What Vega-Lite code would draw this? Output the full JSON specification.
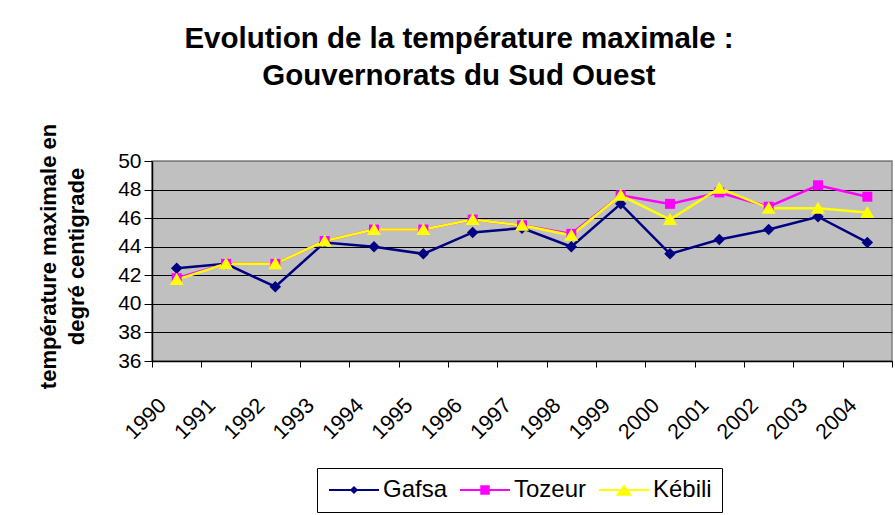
{
  "$schema": "https://vega.github.io/schema/vega-lite/v6.json",
  "autosize": {"type": "none"},
  "padding": {"left": 152, "top": 161, "right": 3, "bottom": 154},
  "width": 740,
  "height": 200,
  "background": "white",
  "title": {
    "text": ["Evolution de la température maximale :", "Gouvernorats du Sud Ouest"],
    "anchor": "middle",
    "frame": "group",
    "dx": -63,
    "offset": 32,
    "fontSize": 29.5,
    "font": "Liberation Sans",
    "fontWeight": "bold",
    "lineHeight": 36.5,
    "color": "black"
  },
  "config": {
    "font": "Liberation Sans",
    "view": {"stroke": "#808080", "fill": "#C0C0C0", "strokeWidth": 1.5}
  },
  "data": {
    "values": [
      {"year": "1990", "series": "Gafsa", "value": 42.5},
      {"year": "1991", "series": "Gafsa", "value": 42.8},
      {"year": "1992", "series": "Gafsa", "value": 41.2},
      {"year": "1993", "series": "Gafsa", "value": 44.3},
      {"year": "1994", "series": "Gafsa", "value": 44.0},
      {"year": "1995", "series": "Gafsa", "value": 43.5},
      {"year": "1996", "series": "Gafsa", "value": 45.0},
      {"year": "1997", "series": "Gafsa", "value": 45.3},
      {"year": "1998", "series": "Gafsa", "value": 44.0},
      {"year": "1999", "series": "Gafsa", "value": 47.0},
      {"year": "2000", "series": "Gafsa", "value": 43.5},
      {"year": "2001", "series": "Gafsa", "value": 44.5},
      {"year": "2002", "series": "Gafsa", "value": 45.2},
      {"year": "2003", "series": "Gafsa", "value": 46.1},
      {"year": "2004", "series": "Gafsa", "value": 44.3},
      {"year": "1990", "series": "Tozeur", "value": 41.8},
      {"year": "1991", "series": "Tozeur", "value": 42.8},
      {"year": "1992", "series": "Tozeur", "value": 42.8},
      {"year": "1993", "series": "Tozeur", "value": 44.4},
      {"year": "1994", "series": "Tozeur", "value": 45.2},
      {"year": "1995", "series": "Tozeur", "value": 45.2},
      {"year": "1996", "series": "Tozeur", "value": 45.9},
      {"year": "1997", "series": "Tozeur", "value": 45.5},
      {"year": "1998", "series": "Tozeur", "value": 44.9},
      {"year": "1999", "series": "Tozeur", "value": 47.6},
      {"year": "2000", "series": "Tozeur", "value": 47.0},
      {"year": "2001", "series": "Tozeur", "value": 47.8},
      {"year": "2002", "series": "Tozeur", "value": 46.8},
      {"year": "2003", "series": "Tozeur", "value": 48.3},
      {"year": "2004", "series": "Tozeur", "value": 47.5},
      {"year": "1990", "series": "Kébili", "value": 41.7},
      {"year": "1991", "series": "Kébili", "value": 42.8},
      {"year": "1992", "series": "Kébili", "value": 42.8},
      {"year": "1993", "series": "Kébili", "value": 44.4},
      {"year": "1994", "series": "Kébili", "value": 45.2},
      {"year": "1995", "series": "Kébili", "value": 45.2},
      {"year": "1996", "series": "Kébili", "value": 45.9},
      {"year": "1997", "series": "Kébili", "value": 45.5},
      {"year": "1998", "series": "Kébili", "value": 44.8},
      {"year": "1999", "series": "Kébili", "value": 47.6},
      {"year": "2000", "series": "Kébili", "value": 45.9},
      {"year": "2001", "series": "Kébili", "value": 48.1},
      {"year": "2002", "series": "Kébili", "value": 46.7},
      {"year": "2003", "series": "Kébili", "value": 46.7},
      {"year": "2004", "series": "Kébili", "value": 46.4}
    ]
  },
  "encoding": {
    "x": {
      "field": "year",
      "type": "ordinal",
      "bandPosition": 0.5,
      "scale": {"type": "band", "paddingInner": 0, "paddingOuter": 0},
      "axis": {
        "title": null,
        "tickBand": "extent",
        "labelAngle": -45,
        "labelAlign": "right",
        "labelBaseline": "middle",
        "labelOffset": -14,
        "labelPadding": 35,
        "labelFontSize": 21.5,
        "labelColor": "black",
        "labelOverlap": false,
        "domainColor": "black",
        "domainWidth": 1.5,
        "tickColor": "black",
        "tickSize": 6,
        "grid": false
      }
    },
    "y": {
      "field": "value",
      "type": "quantitative",
      "scale": {"domain": [36, 50], "nice": false, "zero": false},
      "axis": {
        "values": [36, 38, 40, 42, 44, 46, 48, 50],
        "title": ["température maximale en", "degré centigrade"],
        "titleFontSize": 22,
        "titleFontWeight": "bold",
        "titleColor": "black",
        "titleLineHeight": 28,
        "titlePadding": 29,
        "titleY": 95,
        "labelFontSize": 21,
        "labelColor": "black",
        "labelPadding": 3,
        "domainColor": "black",
        "domainWidth": 1.5,
        "tickColor": "black",
        "tickSize": 8,
        "grid": true,
        "gridColor": {"condition": {"test": "datum.value == 50", "value": "#808080"}, "value": "black"},
        "gridWidth": 1
      }
    },
    "color": {
      "field": "series",
      "type": "nominal",
      "scale": {"domain": ["Gafsa", "Tozeur", "Kébili"], "range": ["#000080", "#FF00FF", "#FFFF00"]},
      "legend": {
        "title": null,
        "orient": "none",
        "direction": "horizontal",
        "legendX": 165,
        "legendY": 307,
        "strokeColor": "black",
        "fillColor": "white",
        "padding": 10,
        "labelFontSize": 24,
        "labelColor": "black",
        "symbolSize": 40,
        "symbolOffset": 15,
        "labelOffset": 17,
        "columnPadding": 10,
        "symbolStrokeWidth": 0
      }
    }
  },
  "layer": [
    {
      "mark": {"type": "line", "strokeWidth": 2.5},
      "encoding": {}
    },
    {
      "transform": [{"filter": "datum.series === 'Gafsa'"}],
      "mark": {"type": "point", "filled": true, "opacity": 1, "size": 100, "shape": "M0,-1.15L1.15,0L0,1.15L-1.15,0Z"},
      "encoding": {}
    },
    {
      "transform": [{"filter": "datum.series === 'Tozeur'"}],
      "mark": {"type": "point", "filled": true, "opacity": 1, "size": 100, "shape": "M-1,-1H1V1H-1Z"},
      "encoding": {}
    },
    {
      "transform": [{"filter": "datum.series === 'Kébili'"}],
      "mark": {"type": "point", "filled": true, "opacity": 1, "size": 100, "shape": "M0,-1.3L1.4,1.1L-1.4,1.1Z"},
      "encoding": {}
    },
    {
      "transform": [{"filter": "false"}],
      "mark": {"type": "point", "filled": true, "opacity": 1, "size": 40},
      "encoding": {
        "shape": {
          "field": "series",
          "type": "nominal",
          "scale": {
            "domain": ["Gafsa", "Tozeur", "Kébili"],
            "range": [
              "M-7.9,-0.3H7.9V0.3H-7.9ZM0,-1.3L1.3,0L0,1.3L-1.3,0Z",
              "M-7.9,-0.3H7.9V0.3H-7.9ZM-1.5,-1.5H1.5V1.5H-1.5Z",
              "M-7.9,-0.3H7.9V0.3H-7.9ZM0,-1.7L2.6,1.8L-2.6,1.8Z"
            ]
          },
          "legend": {
            "title": null,
            "orient": "none",
            "direction": "horizontal",
            "legendX": 165,
            "legendY": 307,
            "strokeColor": "black",
            "fillColor": "white",
            "padding": 10,
            "labelFontSize": 24,
            "labelColor": "black",
            "symbolSize": 40,
            "symbolOffset": 15,
            "labelOffset": 17,
            "columnPadding": 10,
            "symbolStrokeWidth": 0
          }
        }
      }
    }
  ]
}
